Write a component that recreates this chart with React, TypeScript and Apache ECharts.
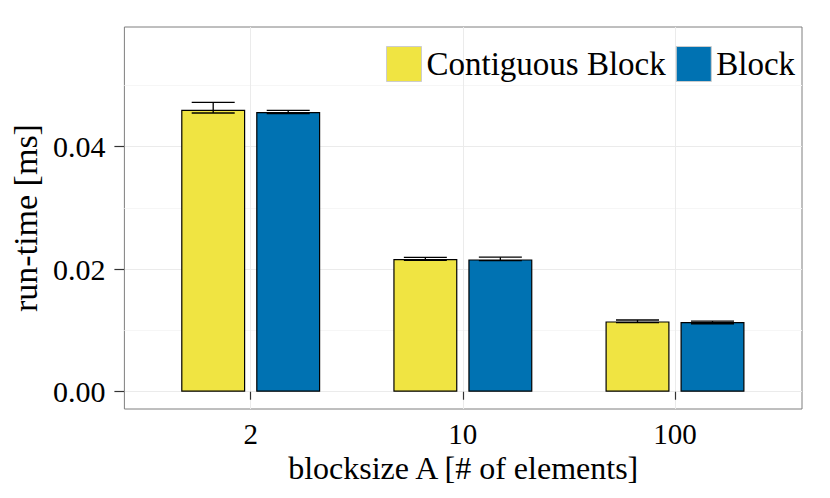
import React, { useEffect, useRef } from "react";
import * as echarts from "echarts";

const categories = ["2", "10", "100"];
const seriesNames = ["Contiguous Block", "Block"];
const contiguousMean = [0.04604, 0.02167, 0.01148];
const contiguousLow = [0.0455, 0.02144, 0.01127];
const contiguousHigh = [0.04723, 0.02193, 0.01171];
const blockMean = [0.04567, 0.0216, 0.01138];
const blockLow = [0.04539, 0.02139, 0.0111];
const blockHigh = [0.04593, 0.02196, 0.01154];
const yMajorTicks = [0, 0.02, 0.04];
const yMinorTicks = [0.01, 0.03, 0.05];
const Y_MIN = -0.00282;
const Y_MAX = 0.05954;

const COLORS = ["#F0E442", "#0072B2"];
const FONT = "'Liberation Serif', 'Times New Roman', serif";
const BAR_W = 64;
const BAR_GAP = 11;
const CAP_HALF = 21.5;

function errorSeries(name: string, low: number[], high: number[], sign: number) {
  return {
    type: "custom",
    name,
    xAxisIndex: 1,
    yAxisIndex: 2,
    z: 5,
    clip: false,
    data: low.map((l, i) => [i, l, high[i]]),
    renderItem: (params: any, api: any) => {
      const i = api.value(0);
      const lo = api.coord([i, api.value(1)]);
      const hi = api.coord([i, api.value(2)]);
      const cx = lo[0] + (sign * (BAR_W + BAR_GAP)) / 2;
      const style = { stroke: "#000", lineWidth: 1.3 };
      return {
        type: "group",
        children: [
          { type: "line", shape: { x1: cx, y1: lo[1], x2: cx, y2: hi[1] }, style },
          { type: "line", shape: { x1: cx - CAP_HALF, y1: lo[1], x2: cx + CAP_HALF, y2: lo[1] }, style },
          { type: "line", shape: { x1: cx - CAP_HALF, y1: hi[1], x2: cx + CAP_HALF, y2: hi[1] }, style },
        ],
      };
    },
  };
}

export default function App() {
  const ref = useRef<HTMLDivElement>(null);
  useEffect(() => {
    if (!ref.current) return;
    const chart = echarts.init(ref.current, undefined, { renderer: "svg" });
    const option: any = {
      animation: false,
      backgroundColor: "#ffffff",
      textStyle: { fontFamily: FONT, color: "#000" },
      grid: [
        {
          left: 124,
          top: 27,
          width: 678,
          height: 382,
          show: true,
          borderColor: "#7f7f7f",
          borderWidth: 1,
          backgroundColor: "#ffffff",
          z: 0,
        },
        { left: 250.7, top: 27, width: 424.3, height: 382 },
      ],
      legend: {
        data: seriesNames,
        left: 386,
        top: 46,
        itemWidth: 35,
        itemHeight: 35,
        itemGap: 10,
        icon: "rect",
        itemStyle: { borderColor: "#cccccc", borderWidth: 1 },
        textStyle: { fontFamily: FONT, fontSize: 33, color: "#000" },
        padding: 0,
      },
      xAxis: [
        {
          gridIndex: 0,
          type: "value",
          min: 0,
          max: 1,
          axisLine: { show: false },
          axisTick: { show: false },
          axisLabel: { show: false },
          splitLine: { show: false },
          name: "blocksize A [# of elements]",
          nameLocation: "middle",
          nameGap: 46,
          nameTextStyle: { fontFamily: FONT, fontSize: 32, lineHeight: 26, color: "#000" },
        },
        {
          gridIndex: 1,
          type: "category",
          data: categories,
          boundaryGap: false,
          axisLine: { show: false },
          axisTick: { show: true, length: 8, lineStyle: { color: "#333", width: 1.2 } },
          axisLabel: { margin: 14, fontFamily: FONT, fontSize: 29, lineHeight: 22, color: "#000" },
          splitLine: { show: true, lineStyle: { color: "#ebebeb", width: 1 } },
        },
      ],
      yAxis: [
        {
          gridIndex: 0,
          type: "value",
          min: Y_MIN,
          max: Y_MAX,
          axisLine: { show: false },
          axisTick: {
            show: true,
            customValues: yMajorTicks,
            length: 10,
            lineStyle: { color: "#333", width: 1.2 },
          },
          axisLabel: {
            customValues: yMajorTicks,
            formatter: (v: number) => v.toFixed(2),
            margin: 19,
            fontFamily: FONT,
            fontSize: 30,
            color: "#000",
          },
          splitLine: { show: true, lineStyle: { color: "#ebebeb", width: 1 } },
          name: "run-time [ms]",
          nameLocation: "middle",
          nameGap: 72,
          nameRotate: 90,
          nameTextStyle: { fontFamily: FONT, fontSize: 34, color: "#000" },
        },
        {
          gridIndex: 0,
          type: "value",
          min: Y_MIN,
          max: Y_MAX,
          position: "left",
          axisLine: { show: false },
          axisTick: { show: false, customValues: yMinorTicks },
          axisLabel: { show: false, customValues: yMinorTicks },
          splitLine: { show: true, lineStyle: { color: "#f6f6f6", width: 1 } },
        },
        {
          gridIndex: 1,
          type: "value",
          min: Y_MIN,
          max: Y_MAX,
          show: false,
          splitLine: { show: false },
        },
      ],
      series: [
        {
          type: "bar",
          name: seriesNames[0],
          xAxisIndex: 1,
          yAxisIndex: 2,
          data: contiguousMean,
          barWidth: BAR_W,
          barGap: `${(BAR_GAP / BAR_W) * 100}%`,
          clip: false,
          itemStyle: { color: COLORS[0], borderColor: "#000", borderWidth: 1.2 },
        },
        {
          type: "bar",
          name: seriesNames[1],
          xAxisIndex: 1,
          yAxisIndex: 2,
          data: blockMean,
          barWidth: BAR_W,
          barGap: `${(BAR_GAP / BAR_W) * 100}%`,
          clip: false,
          itemStyle: { color: COLORS[1], borderColor: "#000", borderWidth: 1.2 },
        },
        errorSeries("errContiguous", contiguousLow, contiguousHigh, -1),
        errorSeries("errBlock", blockLow, blockHigh, 1),
      ],
    };
    chart.setOption(option);
    return () => chart.dispose();
  }, []);
  return (
    <div
      ref={ref}
      style={{ position: "fixed", left: 0, top: 0, width: 830, height: 498 }}
    />
  );
}
